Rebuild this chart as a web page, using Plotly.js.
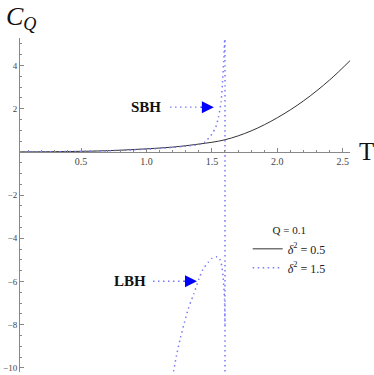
<!DOCTYPE html>
<html><head><meta charset="utf-8">
<script src="https://cdn.plot.ly/plotly-3.0.1.min.js"></script>
<style>body{margin:0;padding:0;background:#fff}#chart{width:374px;height:375px}</style>
</head><body><div id="chart"></div>
<script>
// δ^2 = 0.5 (black, solid)
const blackT = [0.03, 0.2, 0.4, 0.6, 0.8, 1.0, 1.2, 1.4, 1.6, 1.8, 2.0, 2.2, 2.4, 2.56];
const blackC = [0.0, 0.004, 0.014, 0.035, 0.075, 0.14, 0.22, 0.36, 0.56, 0.97, 1.58, 2.36, 3.33, 4.25];
// δ^2 = 1.5 (blue, dotted) small black hole branch + asymptote
const sbhT = [0.03, 0.3, 0.6, 0.9, 1.1, 1.3, 1.4, 1.45, 1.5, 1.53, 1.55, 1.57, 1.58, 1.59, 1.6, 1.6, 1.6];
const sbhC = [0.0, 0.008, 0.03, 0.09, 0.16, 0.26, 0.34, 0.47, 0.82, 1.15, 1.6, 2.3, 3.1, 4.2, 5.6, 6.5, -11];
// large black hole branch
const lbhT = [1.2, 1.23, 1.26, 1.29, 1.32, 1.36, 1.40, 1.43, 1.47, 1.5, 1.536, 1.556, 1.574, 1.586, 1.596, 1.6];
const lbhC = [-10.4, -9.41, -8.6, -7.9, -7.25, -6.6, -5.9, -5.45, -5.12, -4.93, -4.86, -4.9, -5.25, -5.8, -6.8, -8.0];
const xTicks = [0.5, 1.0, 1.5, 2.0, 2.5];
const yTicks = [-10, -8, -6, -4, -2, 2, 4];
const legendTitle = 'Q = 0.1';
const names = ['<i>δ</i><sup>2</sup> = 0.5', '<i>δ</i><sup>2</sup> = 1.5'];

const blue = 'rgb(120,120,250)';
const dots = '1.5px,3.5px';
const serif = 'Liberation Serif, Times New Roman, serif';
const yr = [-10.19, 5.27];
const zeroFrac = -yr[0] / (yr[1] - yr[0]);

const traces = [
  {x: blackT, y: blackC, mode: 'lines', name: names[0], line: {color: '#333', width: 1, shape: 'spline'}},
  {x: sbhT, y: sbhC, mode: 'lines', name: names[1], line: {color: blue, width: 1.5, dash: dots, shape: 'spline', smoothing: 0.6}},
  {x: lbhT, y: lbhC, mode: 'lines', showlegend: false, line: {color: blue, width: 1.5, dash: dots, shape: 'spline', smoothing: 0.6}}
];

const layout = {
  width: 374, height: 375,
  margin: {l: 20, r: 24, t: 38, b: 3},
  paper_bgcolor: '#fff', plot_bgcolor: '#fff',
  showlegend: true,
  legend: {x: 0.69, y: 0.455, xanchor: 'left', yanchor: 'top', bgcolor: 'rgba(0,0,0,0)',
    font: {family: serif, size: 12, color: '#222'},
    title: {text: legendTitle, side: 'top center', font: {family: serif, size: 11, color: '#222'}},
    tracegroupgap: 0, itemwidth: 30},
  xaxis: {range: [0.034, 2.555], anchor: 'free', position: zeroFrac, showgrid: false, zeroline: false,
    showline: true, linecolor: '#888', linewidth: 1, ticks: 'inside', ticklen: 4, tickcolor: '#888',
    tickvals: xTicks, tickformat: '.1f', tickfont: {family: serif, size: 10, color: '#444'},
    minor: {dtick: 0.1, ticks: 'inside', ticklen: 2, tickcolor: '#888'}, automargin: false},
  yaxis: {range: yr, showgrid: false, zeroline: false, showline: true, linecolor: '#888', linewidth: 1,
    ticks: 'inside', ticklen: 4, tickcolor: '#888', tickvals: yTicks,
    tickfont: {family: serif, size: 9, color: '#444'},
    minor: {dtick: 0.5, ticks: 'inside', ticklen: 2, tickcolor: '#888'}, automargin: false},
  shapes: [
    {type: 'line', xref: 'x', yref: 'y', x0: 1.18, x1: 1.47, y0: 2.07, y1: 2.07, line: {color: blue, width: 1.3, dash: dots}},
    {type: 'line', xref: 'x', yref: 'y', x0: 1.05, x1: 1.33, y0: -5.99, y1: -5.99, line: {color: blue, width: 1.3, dash: dots}}
  ],
  annotations: [
    {xref: 'paper', yref: 'paper', x: -0.048, y: 1.06, xanchor: 'left', yanchor: 'middle', showarrow: false,
      text: '<i>C</i><sub><i>Q</i></sub>', font: {family: serif, size: 26, color: '#111'}},
    {xref: 'paper', yref: 'paper', x: 1.02, y: zeroFrac, xanchor: 'left', yanchor: 'middle', showarrow: false,
      text: 'T', font: {family: serif, size: 25, color: '#111'}},
    {xref: 'x', yref: 'y', x: 0.996, y: 2.07, showarrow: false, text: '<b>SBH</b>', font: {family: serif, size: 15, color: '#111'}},
    {xref: 'x', yref: 'y', x: 0.874, y: -5.99, showarrow: false, text: '<b>LBH</b>', font: {family: serif, size: 15, color: '#111'}},
    {xref: 'x', yref: 'y', x: 1.515, y: 2.07, ax: -14, ay: 0, showarrow: true, text: '', arrowhead: 2, arrowsize: 1.6, arrowwidth: 1.5, arrowcolor: 'blue'},
    {xref: 'x', yref: 'y', x: 1.386, y: -5.99, ax: -14, ay: 0, showarrow: true, text: '', arrowhead: 2, arrowsize: 1.6, arrowwidth: 1.5, arrowcolor: 'blue'}
  ]
};
Plotly.newPlot('chart', traces, layout, {displayModeBar: false, staticPlot: true});
</script></body></html>
